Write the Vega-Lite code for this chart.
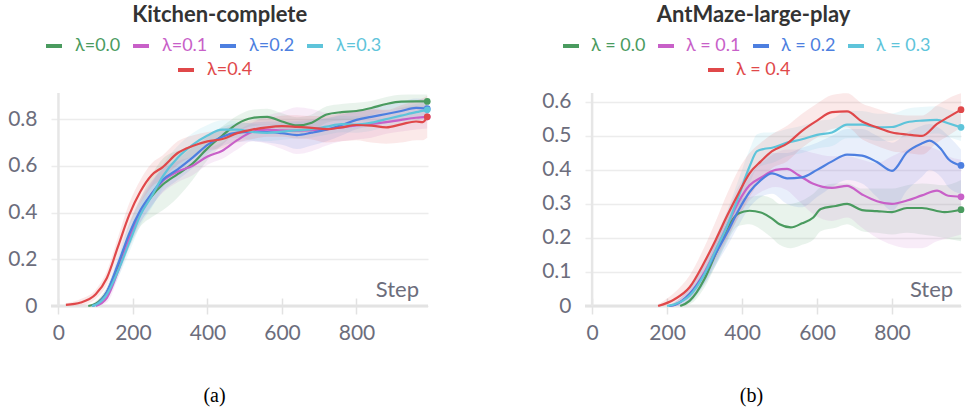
{
"$schema":"https://vega.github.io/schema/vega-lite/v6.json",
"padding":{"left":7,"top":4,"right":5,"bottom":5},
"config":{"font":"Lato","view":{"stroke":null},"axis":{"labelFont":"Lato"},"legend":{"labelFont":"Lato"}},
"datasets":{
"ka":[
{"l":"λ=0.0","s":80,"m":0,"lo":0,"hi":0},{"l":"λ=0.0","s":100,"m":0.01,"lo":0,"hi":0.02},{"l":"λ=0.0","s":130,"m":0.06,"lo":0.04,"hi":0.08},{"l":"λ=0.0","s":160,"m":0.17,"lo":0.135,"hi":0.205},{"l":"λ=0.0","s":190,"m":0.30,"lo":0.25,"hi":0.35},{"l":"λ=0.0","s":220,"m":0.40,"lo":0.34,"hi":0.46},{"l":"λ=0.0","s":250,"m":0.47,"lo":0.38,"hi":0.56},{"l":"λ=0.0","s":280,"m":0.52,"lo":0.41,"hi":0.63},{"l":"λ=0.0","s":320,"m":0.565,"lo":0.465,"hi":0.665},{"l":"λ=0.0","s":360,"m":0.61,"lo":0.54,"hi":0.68},{"l":"λ=0.0","s":400,"m":0.675,"lo":0.625,"hi":0.725},{"l":"λ=0.0","s":440,"m":0.73,"lo":0.69,"hi":0.77},{"l":"λ=0.0","s":480,"m":0.78,"lo":0.745,"hi":0.815},{"l":"λ=0.0","s":520,"m":0.805,"lo":0.77,"hi":0.84},{"l":"λ=0.0","s":560,"m":0.81,"lo":0.775,"hi":0.845},{"l":"λ=0.0","s":600,"m":0.79,"lo":0.755,"hi":0.825},{"l":"λ=0.0","s":640,"m":0.773,"lo":0.738,"hi":0.808},{"l":"λ=0.0","s":680,"m":0.785,"lo":0.75,"hi":0.82},{"l":"λ=0.0","s":720,"m":0.82,"lo":0.785,"hi":0.855},{"l":"λ=0.0","s":760,"m":0.83,"lo":0.795,"hi":0.865},{"l":"λ=0.0","s":800,"m":0.835,"lo":0.80,"hi":0.87},{"l":"λ=0.0","s":840,"m":0.848,"lo":0.818,"hi":0.878},{"l":"λ=0.0","s":880,"m":0.865,"lo":0.835,"hi":0.895},{"l":"λ=0.0","s":920,"m":0.875,"lo":0.845,"hi":0.905},{"l":"λ=0.0","s":960,"m":0.876,"lo":0.846,"hi":0.906},{"l":"λ=0.0","s":990,"m":0.876,"lo":0.846,"hi":0.906},
{"l":"λ=0.1","s":100,"m":0,"lo":0,"hi":0.005},{"l":"λ=0.1","s":130,"m":0.035,"lo":0.015,"hi":0.055},{"l":"λ=0.1","s":160,"m":0.15,"lo":0.12,"hi":0.18},{"l":"λ=0.1","s":190,"m":0.29,"lo":0.25,"hi":0.33},{"l":"λ=0.1","s":220,"m":0.40,"lo":0.355,"hi":0.445},{"l":"λ=0.1","s":250,"m":0.48,"lo":0.43,"hi":0.53},{"l":"λ=0.1","s":280,"m":0.535,"lo":0.485,"hi":0.585},{"l":"λ=0.1","s":320,"m":0.575,"lo":0.53,"hi":0.62},{"l":"λ=0.1","s":360,"m":0.60,"lo":0.56,"hi":0.64},{"l":"λ=0.1","s":400,"m":0.64,"lo":0.605,"hi":0.675},{"l":"λ=0.1","s":440,"m":0.665,"lo":0.63,"hi":0.70},{"l":"λ=0.1","s":480,"m":0.71,"lo":0.67,"hi":0.75},{"l":"λ=0.1","s":520,"m":0.745,"lo":0.705,"hi":0.785},{"l":"λ=0.1","s":560,"m":0.755,"lo":0.695,"hi":0.815},{"l":"λ=0.1","s":600,"m":0.752,"lo":0.672,"hi":0.832},{"l":"λ=0.1","s":640,"m":0.751,"lo":0.651,"hi":0.851},{"l":"λ=0.1","s":680,"m":0.753,"lo":0.663,"hi":0.843},{"l":"λ=0.1","s":720,"m":0.757,"lo":0.687,"hi":0.827},{"l":"λ=0.1","s":760,"m":0.765,"lo":0.705,"hi":0.825},{"l":"λ=0.1","s":800,"m":0.773,"lo":0.713,"hi":0.833},{"l":"λ=0.1","s":840,"m":0.78,"lo":0.72,"hi":0.84},{"l":"λ=0.1","s":880,"m":0.787,"lo":0.737,"hi":0.837},{"l":"λ=0.1","s":920,"m":0.797,"lo":0.747,"hi":0.847},{"l":"λ=0.1","s":960,"m":0.806,"lo":0.756,"hi":0.856},{"l":"λ=0.1","s":990,"m":0.81,"lo":0.76,"hi":0.86},
{"l":"λ=0.2","s":90,"m":0,"lo":0,"hi":0},{"l":"λ=0.2","s":100,"m":0.005,"lo":0,"hi":0.015},{"l":"λ=0.2","s":130,"m":0.06,"lo":0.04,"hi":0.08},{"l":"λ=0.2","s":160,"m":0.18,"lo":0.145,"hi":0.215},{"l":"λ=0.2","s":190,"m":0.31,"lo":0.265,"hi":0.355},{"l":"λ=0.2","s":220,"m":0.41,"lo":0.36,"hi":0.46},{"l":"λ=0.2","s":250,"m":0.48,"lo":0.425,"hi":0.535},{"l":"λ=0.2","s":280,"m":0.54,"lo":0.49,"hi":0.59},{"l":"λ=0.2","s":320,"m":0.585,"lo":0.54,"hi":0.63},{"l":"λ=0.2","s":360,"m":0.635,"lo":0.59,"hi":0.68},{"l":"λ=0.2","s":400,"m":0.69,"lo":0.65,"hi":0.73},{"l":"λ=0.2","s":440,"m":0.725,"lo":0.685,"hi":0.765},{"l":"λ=0.2","s":480,"m":0.742,"lo":0.702,"hi":0.782},{"l":"λ=0.2","s":520,"m":0.745,"lo":0.705,"hi":0.785},{"l":"λ=0.2","s":560,"m":0.745,"lo":0.70,"hi":0.79},{"l":"λ=0.2","s":600,"m":0.74,"lo":0.69,"hi":0.79},{"l":"λ=0.2","s":640,"m":0.732,"lo":0.672,"hi":0.792},{"l":"λ=0.2","s":680,"m":0.742,"lo":0.687,"hi":0.797},{"l":"λ=0.2","s":720,"m":0.755,"lo":0.705,"hi":0.805},{"l":"λ=0.2","s":760,"m":0.775,"lo":0.73,"hi":0.82},{"l":"λ=0.2","s":800,"m":0.797,"lo":0.757,"hi":0.837},{"l":"λ=0.2","s":840,"m":0.81,"lo":0.77,"hi":0.85},{"l":"λ=0.2","s":880,"m":0.822,"lo":0.782,"hi":0.862},{"l":"λ=0.2","s":920,"m":0.835,"lo":0.795,"hi":0.875},{"l":"λ=0.2","s":960,"m":0.848,"lo":0.808,"hi":0.888},{"l":"λ=0.2","s":990,"m":0.845,"lo":0.805,"hi":0.885},
{"l":"λ=0.3","s":90,"m":0,"lo":0,"hi":0},{"l":"λ=0.3","s":100,"m":0.005,"lo":0,"hi":0.015},{"l":"λ=0.3","s":130,"m":0.05,"lo":0.03,"hi":0.07},{"l":"λ=0.3","s":160,"m":0.15,"lo":0.12,"hi":0.18},{"l":"λ=0.3","s":190,"m":0.27,"lo":0.23,"hi":0.31},{"l":"λ=0.3","s":220,"m":0.39,"lo":0.345,"hi":0.435},{"l":"λ=0.3","s":250,"m":0.47,"lo":0.42,"hi":0.52},{"l":"λ=0.3","s":280,"m":0.555,"lo":0.505,"hi":0.605},{"l":"λ=0.3","s":320,"m":0.635,"lo":0.585,"hi":0.685},{"l":"λ=0.3","s":360,"m":0.69,"lo":0.64,"hi":0.74},{"l":"λ=0.3","s":400,"m":0.73,"lo":0.685,"hi":0.775},{"l":"λ=0.3","s":440,"m":0.755,"lo":0.715,"hi":0.795},{"l":"λ=0.3","s":480,"m":0.755,"lo":0.72,"hi":0.79},{"l":"λ=0.3","s":520,"m":0.745,"lo":0.71,"hi":0.78},{"l":"λ=0.3","s":560,"m":0.741,"lo":0.706,"hi":0.776},{"l":"λ=0.3","s":600,"m":0.747,"lo":0.712,"hi":0.782},{"l":"λ=0.3","s":640,"m":0.752,"lo":0.717,"hi":0.787},{"l":"λ=0.3","s":680,"m":0.757,"lo":0.722,"hi":0.792},{"l":"λ=0.3","s":720,"m":0.768,"lo":0.733,"hi":0.803},{"l":"λ=0.3","s":760,"m":0.779,"lo":0.744,"hi":0.814},{"l":"λ=0.3","s":800,"m":0.777,"lo":0.742,"hi":0.812},{"l":"λ=0.3","s":840,"m":0.785,"lo":0.75,"hi":0.82},{"l":"λ=0.3","s":880,"m":0.80,"lo":0.765,"hi":0.835},{"l":"λ=0.3","s":920,"m":0.815,"lo":0.78,"hi":0.85},{"l":"λ=0.3","s":960,"m":0.83,"lo":0.795,"hi":0.865},{"l":"λ=0.3","s":990,"m":0.84,"lo":0.805,"hi":0.875},
{"l":"λ=0.4","s":20,"m":0.005,"lo":0,"hi":0.012},{"l":"λ=0.4","s":60,"m":0.015,"lo":0.003,"hi":0.03},{"l":"λ=0.4","s":100,"m":0.05,"lo":0.03,"hi":0.07},{"l":"λ=0.4","s":130,"m":0.12,"lo":0.09,"hi":0.15},{"l":"λ=0.4","s":160,"m":0.255,"lo":0.215,"hi":0.295},{"l":"λ=0.4","s":190,"m":0.39,"lo":0.34,"hi":0.44},{"l":"λ=0.4","s":220,"m":0.49,"lo":0.44,"hi":0.54},{"l":"λ=0.4","s":250,"m":0.56,"lo":0.51,"hi":0.61},{"l":"λ=0.4","s":280,"m":0.595,"lo":0.545,"hi":0.645},{"l":"λ=0.4","s":320,"m":0.655,"lo":0.605,"hi":0.705},{"l":"λ=0.4","s":360,"m":0.685,"lo":0.64,"hi":0.73},{"l":"λ=0.4","s":400,"m":0.705,"lo":0.665,"hi":0.745},{"l":"λ=0.4","s":440,"m":0.715,"lo":0.675,"hi":0.755},{"l":"λ=0.4","s":480,"m":0.74,"lo":0.70,"hi":0.78},{"l":"λ=0.4","s":520,"m":0.755,"lo":0.715,"hi":0.795},{"l":"λ=0.4","s":560,"m":0.765,"lo":0.725,"hi":0.805},{"l":"λ=0.4","s":600,"m":0.77,"lo":0.725,"hi":0.815},{"l":"λ=0.4","s":640,"m":0.767,"lo":0.717,"hi":0.817},{"l":"λ=0.4","s":680,"m":0.763,"lo":0.713,"hi":0.813},{"l":"λ=0.4","s":720,"m":0.757,"lo":0.70,"hi":0.815},{"l":"λ=0.4","s":760,"m":0.765,"lo":0.705,"hi":0.825},{"l":"λ=0.4","s":800,"m":0.775,"lo":0.71,"hi":0.84},{"l":"λ=0.4","s":840,"m":0.772,"lo":0.70,"hi":0.845},{"l":"λ=0.4","s":880,"m":0.765,"lo":0.695,"hi":0.84},{"l":"λ=0.4","s":920,"m":0.778,"lo":0.70,"hi":0.86},{"l":"λ=0.4","s":960,"m":0.79,"lo":0.71,"hi":0.88},{"l":"λ=0.4","s":978,"m":0.787,"lo":0.71,"hi":0.89},{"l":"λ=0.4","s":990,"m":0.81,"lo":0.72,"hi":0.90}
],
"am":[
{"l":"λ = 0.0","s":235,"m":0,"lo":0,"hi":0},{"l":"λ = 0.0","s":260,"m":0.015,"lo":0.005,"hi":0.025},{"l":"λ = 0.0","s":300,"m":0.08,"lo":0.055,"hi":0.105},{"l":"λ = 0.0","s":330,"m":0.155,"lo":0.12,"hi":0.19},{"l":"λ = 0.0","s":360,"m":0.228,"lo":0.188,"hi":0.268},{"l":"λ = 0.0","s":390,"m":0.272,"lo":0.235,"hi":0.31},{"l":"λ = 0.0","s":420,"m":0.28,"lo":0.24,"hi":0.32},{"l":"λ = 0.0","s":450,"m":0.275,"lo":0.225,"hi":0.325},{"l":"λ = 0.0","s":480,"m":0.257,"lo":0.20,"hi":0.315},{"l":"λ = 0.0","s":500,"m":0.24,"lo":0.18,"hi":0.30},{"l":"λ = 0.0","s":530,"m":0.231,"lo":0.17,"hi":0.30},{"l":"λ = 0.0","s":560,"m":0.243,"lo":0.18,"hi":0.31},{"l":"λ = 0.0","s":590,"m":0.26,"lo":0.195,"hi":0.33},{"l":"λ = 0.0","s":610,"m":0.285,"lo":0.22,"hi":0.35},{"l":"λ = 0.0","s":650,"m":0.294,"lo":0.23,"hi":0.36},{"l":"λ = 0.0","s":680,"m":0.30,"lo":0.24,"hi":0.36},{"l":"λ = 0.0","s":720,"m":0.282,"lo":0.22,"hi":0.345},{"l":"λ = 0.0","s":760,"m":0.279,"lo":0.215,"hi":0.345},{"l":"λ = 0.0","s":800,"m":0.276,"lo":0.21,"hi":0.345},{"l":"λ = 0.0","s":840,"m":0.288,"lo":0.215,"hi":0.355},{"l":"λ = 0.0","s":880,"m":0.288,"lo":0.21,"hi":0.36},{"l":"λ = 0.0","s":940,"m":0.276,"lo":0.20,"hi":0.355},{"l":"λ = 0.0","s":984,"m":0.283,"lo":0.19,"hi":0.37},
{"l":"λ = 0.1","s":205,"m":0,"lo":0,"hi":0},{"l":"λ = 0.1","s":220,"m":0.003,"lo":0,"hi":0.01},{"l":"λ = 0.1","s":260,"m":0.035,"lo":0.015,"hi":0.055},{"l":"λ = 0.1","s":300,"m":0.10,"lo":0.07,"hi":0.13},{"l":"λ = 0.1","s":330,"m":0.165,"lo":0.13,"hi":0.20},{"l":"λ = 0.1","s":360,"m":0.235,"lo":0.195,"hi":0.275},{"l":"λ = 0.1","s":390,"m":0.305,"lo":0.26,"hi":0.35},{"l":"λ = 0.1","s":420,"m":0.355,"lo":0.31,"hi":0.40},{"l":"λ = 0.1","s":450,"m":0.377,"lo":0.335,"hi":0.42},{"l":"λ = 0.1","s":490,"m":0.40,"lo":0.35,"hi":0.45},{"l":"λ = 0.1","s":520,"m":0.403,"lo":0.34,"hi":0.46},{"l":"λ = 0.1","s":550,"m":0.385,"lo":0.31,"hi":0.46},{"l":"λ = 0.1","s":590,"m":0.359,"lo":0.27,"hi":0.45},{"l":"λ = 0.1","s":640,"m":0.347,"lo":0.25,"hi":0.44},{"l":"λ = 0.1","s":680,"m":0.353,"lo":0.26,"hi":0.44},{"l":"λ = 0.1","s":720,"m":0.328,"lo":0.23,"hi":0.43},{"l":"λ = 0.1","s":760,"m":0.308,"lo":0.20,"hi":0.42},{"l":"λ = 0.1","s":800,"m":0.30,"lo":0.18,"hi":0.44},{"l":"λ = 0.1","s":840,"m":0.31,"lo":0.17,"hi":0.46},{"l":"λ = 0.1","s":880,"m":0.325,"lo":0.17,"hi":0.47},{"l":"λ = 0.1","s":920,"m":0.339,"lo":0.19,"hi":0.46},{"l":"λ = 0.1","s":950,"m":0.324,"lo":0.20,"hi":0.44},{"l":"λ = 0.1","s":984,"m":0.321,"lo":0.21,"hi":0.43},
{"l":"λ = 0.2","s":205,"m":0,"lo":0,"hi":0},{"l":"λ = 0.2","s":220,"m":0.003,"lo":0,"hi":0.01},{"l":"λ = 0.2","s":260,"m":0.035,"lo":0.015,"hi":0.055},{"l":"λ = 0.2","s":300,"m":0.095,"lo":0.065,"hi":0.125},{"l":"λ = 0.2","s":330,"m":0.155,"lo":0.12,"hi":0.19},{"l":"λ = 0.2","s":360,"m":0.215,"lo":0.175,"hi":0.255},{"l":"λ = 0.2","s":390,"m":0.28,"lo":0.235,"hi":0.325},{"l":"λ = 0.2","s":420,"m":0.335,"lo":0.29,"hi":0.38},{"l":"λ = 0.2","s":450,"m":0.37,"lo":0.32,"hi":0.42},{"l":"λ = 0.2","s":480,"m":0.39,"lo":0.33,"hi":0.45},{"l":"λ = 0.2","s":520,"m":0.375,"lo":0.30,"hi":0.45},{"l":"λ = 0.2","s":560,"m":0.378,"lo":0.29,"hi":0.465},{"l":"λ = 0.2","s":600,"m":0.40,"lo":0.32,"hi":0.48},{"l":"λ = 0.2","s":640,"m":0.425,"lo":0.35,"hi":0.50},{"l":"λ = 0.2","s":680,"m":0.445,"lo":0.37,"hi":0.52},{"l":"λ = 0.2","s":720,"m":0.442,"lo":0.36,"hi":0.52},{"l":"λ = 0.2","s":760,"m":0.423,"lo":0.32,"hi":0.50},{"l":"λ = 0.2","s":800,"m":0.397,"lo":0.28,"hi":0.48},{"l":"λ = 0.2","s":840,"m":0.452,"lo":0.34,"hi":0.51},{"l":"λ = 0.2","s":880,"m":0.478,"lo":0.38,"hi":0.53},{"l":"λ = 0.2","s":900,"m":0.486,"lo":0.40,"hi":0.535},{"l":"λ = 0.2","s":930,"m":0.462,"lo":0.38,"hi":0.52},{"l":"λ = 0.2","s":950,"m":0.432,"lo":0.35,"hi":0.50},{"l":"λ = 0.2","s":984,"m":0.413,"lo":0.33,"hi":0.46},
{"l":"λ = 0.3","s":200,"m":0,"lo":0,"hi":0},{"l":"λ = 0.3","s":220,"m":0.005,"lo":0,"hi":0.012},{"l":"λ = 0.3","s":260,"m":0.03,"lo":0.01,"hi":0.05},{"l":"λ = 0.3","s":300,"m":0.095,"lo":0.065,"hi":0.125},{"l":"λ = 0.3","s":330,"m":0.165,"lo":0.125,"hi":0.205},{"l":"λ = 0.3","s":360,"m":0.235,"lo":0.19,"hi":0.28},{"l":"λ = 0.3","s":390,"m":0.32,"lo":0.27,"hi":0.37},{"l":"λ = 0.3","s":420,"m":0.41,"lo":0.36,"hi":0.46},{"l":"λ = 0.3","s":440,"m":0.455,"lo":0.405,"hi":0.505},{"l":"λ = 0.3","s":460,"m":0.462,"lo":0.415,"hi":0.51},{"l":"λ = 0.3","s":480,"m":0.465,"lo":0.42,"hi":0.51},{"l":"λ = 0.3","s":520,"m":0.48,"lo":0.44,"hi":0.52},{"l":"λ = 0.3","s":560,"m":0.49,"lo":0.45,"hi":0.53},{"l":"λ = 0.3","s":600,"m":0.503,"lo":0.463,"hi":0.543},{"l":"λ = 0.3","s":640,"m":0.51,"lo":0.47,"hi":0.55},{"l":"λ = 0.3","s":680,"m":0.533,"lo":0.493,"hi":0.573},{"l":"λ = 0.3","s":720,"m":0.533,"lo":0.493,"hi":0.573},{"l":"λ = 0.3","s":760,"m":0.525,"lo":0.485,"hi":0.565},{"l":"λ = 0.3","s":800,"m":0.526,"lo":0.486,"hi":0.566},{"l":"λ = 0.3","s":840,"m":0.54,"lo":0.50,"hi":0.58},{"l":"λ = 0.3","s":880,"m":0.545,"lo":0.505,"hi":0.585},{"l":"λ = 0.3","s":920,"m":0.547,"lo":0.507,"hi":0.587},{"l":"λ = 0.3","s":950,"m":0.537,"lo":0.497,"hi":0.577},{"l":"λ = 0.3","s":984,"m":0.525,"lo":0.485,"hi":0.565},
{"l":"λ = 0.4","s":176,"m":0,"lo":0,"hi":0.005},{"l":"λ = 0.4","s":220,"m":0.02,"lo":0.005,"hi":0.04},{"l":"λ = 0.4","s":260,"m":0.055,"lo":0.025,"hi":0.09},{"l":"λ = 0.4","s":300,"m":0.13,"lo":0.085,"hi":0.175},{"l":"λ = 0.4","s":330,"m":0.195,"lo":0.14,"hi":0.25},{"l":"λ = 0.4","s":360,"m":0.265,"lo":0.20,"hi":0.33},{"l":"λ = 0.4","s":390,"m":0.33,"lo":0.26,"hi":0.40},{"l":"λ = 0.4","s":420,"m":0.39,"lo":0.32,"hi":0.45},{"l":"λ = 0.4","s":450,"m":0.425,"lo":0.37,"hi":0.48},{"l":"λ = 0.4","s":480,"m":0.455,"lo":0.405,"hi":0.505},{"l":"λ = 0.4","s":520,"m":0.477,"lo":0.425,"hi":0.53},{"l":"λ = 0.4","s":560,"m":0.515,"lo":0.465,"hi":0.565},{"l":"λ = 0.4","s":600,"m":0.545,"lo":0.495,"hi":0.595},{"l":"λ = 0.4","s":640,"m":0.57,"lo":0.52,"hi":0.62},{"l":"λ = 0.4","s":680,"m":0.572,"lo":0.525,"hi":0.625},{"l":"λ = 0.4","s":720,"m":0.542,"lo":0.49,"hi":0.595},{"l":"λ = 0.4","s":760,"m":0.525,"lo":0.47,"hi":0.58},{"l":"λ = 0.4","s":800,"m":0.51,"lo":0.455,"hi":0.565},{"l":"λ = 0.4","s":840,"m":0.504,"lo":0.45,"hi":0.56},{"l":"λ = 0.4","s":880,"m":0.50,"lo":0.445,"hi":0.56},{"l":"λ = 0.4","s":920,"m":0.535,"lo":0.48,"hi":0.59},{"l":"λ = 0.4","s":950,"m":0.555,"lo":0.50,"hi":0.61},{"l":"λ = 0.4","s":984,"m":0.577,"lo":0.525,"hi":0.625}
]},
"spacing":109,
"resolve":{"scale":{"stroke":"independent","fill":"independent"}},
"hconcat":[
{"name":"A","width":377,"height":213,"data":{"name":"ka"},
"title":{"text":"Kitchen-complete","fontSize":22,"fontWeight":"bold","color":"#333333","frame":"bounds","anchor":"middle","offset":9,"font":"Lato"},
"layer":[
{"data":{"values":[{}]},"mark":{"type":"rule","color":"#e3e3e3","strokeWidth":3},"encoding":{"y":{"datum":0,"type":"quantitative","scale":{"domain":[0,0.912],"nice":false,"zero":false},"axis":{"values":[0,0.2,0.4,0.6,0.8],"tickCount":20,"format":".1~f","grid":true,"gridColor":"#ececec","gridWidth":1.5,"domain":false,"ticks":false,"labelFontSize":21,"labelColor":"#6c6d7c","labelPadding":14,"labelOverlap":false,"title":null}}}},
{"data":{"values":[{}]},"mark":{"type":"rule","color":"#e6e6e6","strokeWidth":2.5},"encoding":{"x":{"datum":0,"type":"quantitative","scale":{"domain":[-20,992],"nice":false,"zero":false},"axis":{"values":[0,200,400,600,800],"tickCount":20,"grid":false,"domain":false,"ticks":true,"tickSize":16,"tickColor":"#e2e2e2","tickWidth":1.5,"offset":-8,"labelFontSize":21,"labelColor":"#6c6d7c","labelPadding":8,"labelFlush":false,"labelOverlap":false,"title":"(a)","titleFont":"Liberation Serif","titleFontSize":20,"titleFontWeight":"normal","titleColor":"#000000","titleX":163,"titleY":97,"titleAlign":"center","titleBaseline":"middle"}}}},
{"mark":{"type":"area","fillOpacity":0.12,"interpolate":"monotone"},"encoding":{"x":{"field":"s","type":"quantitative","axis":{"values":[0,200,400,600,800],"tickCount":20,"grid":false,"domain":false,"ticks":true,"tickSize":16,"tickColor":"#e2e2e2","tickWidth":1.5,"offset":-8,"labelFontSize":21,"labelColor":"#6c6d7c","labelPadding":8,"labelFlush":false,"labelOverlap":false,"title":"(a)","titleFont":"Liberation Serif","titleFontSize":20,"titleFontWeight":"normal","titleColor":"#000000","titleX":163,"titleY":97,"titleAlign":"center","titleBaseline":"middle"}},"y":{"field":"lo","type":"quantitative","axis":{"values":[0,0.2,0.4,0.6,0.8],"tickCount":20,"format":".1~f","grid":true,"gridColor":"#ececec","gridWidth":1.5,"domain":false,"ticks":false,"labelFontSize":21,"labelColor":"#6c6d7c","labelPadding":14,"labelOverlap":false,"title":null}},"y2":{"field":"hi"},"fill":{"field":"l","type":"nominal","scale":{"domain":["λ=0.4","λ=0.0","λ=0.1","λ=0.2","λ=0.3"],"range":["#e0484a","#4a9b5f","#c860c8","#4d7fe0","#5ec4da"]},"legend":{"values":["λ=0.4"],"orient":"none","legendX":125,"legendY":-33,"title":null,"symbolType":"stroke","symbolSize":256,"symbolStrokeWidth":4,"symbolStrokeColor":"#e0484a","symbolOpacity":1,"labelColor":"#e0484a","labelFontSize":18,"labelOffset":11,"padding":0,"encode":{"symbols":{"update":{"stroke":{"value":"#e0484a"},"strokeWidth":{"value":4},"opacity":{"value":1},"strokeOpacity":{"value":1}}}}}}}},
{"mark":{"type":"line","strokeWidth":2.2,"interpolate":"monotone"},"encoding":{"x":{"field":"s","type":"quantitative"},"y":{"field":"m","type":"quantitative"},"stroke":{"field":"l","type":"nominal","scale":{"domain":["λ=0.0","λ=0.1","λ=0.2","λ=0.3","λ=0.4"],"range":["#4a9b5f","#c860c8","#4d7fe0","#5ec4da","#e0484a"]},"legend":{"values":["λ=0.0","λ=0.1","λ=0.2","λ=0.3"],"orient":"none","legendX":-7,"legendY":-57,"direction":"horizontal","title":null,"symbolType":"stroke","symbolSize":256,"symbolStrokeWidth":4,"labelFontSize":18,"labelOffset":11,"columnPadding":4,"padding":0,"encode":{"labels":{"update":{"fill":{"scale":"A_stroke","field":"value"}}}}}}}},
{"transform":[{"filter":"datum.s >= 990"}],"mark":{"type":"circle","size":45,"opacity":1},"encoding":{"x":{"field":"s","type":"quantitative"},"y":{"field":"m","type":"quantitative"},"fill":{"field":"l","type":"nominal","legend":{"values":["λ=0.4"],"orient":"none","legendX":125,"legendY":-33,"title":null,"symbolType":"stroke","symbolSize":256,"symbolStrokeWidth":4,"symbolStrokeColor":"#e0484a","symbolOpacity":1,"labelColor":"#e0484a","labelFontSize":18,"labelOffset":11,"padding":0,"encode":{"symbols":{"update":{"stroke":{"value":"#e0484a"},"strokeWidth":{"value":4},"opacity":{"value":1},"strokeOpacity":{"value":1}}}}}}}},
{"data":{"values":[{}]},"mark":{"type":"text","text":"Step","align":"right","baseline":"middle","fontSize":22,"color":"#6c6d7c","font":"Lato"},"encoding":{"x":{"datum":968,"type":"quantitative"},"y":{"datum":0.069,"type":"quantitative"}}}
]},
{"name":"B","width":376,"height":213,"data":{"name":"am"},
"title":{"text":"AntMaze-large-play","fontSize":22,"fontWeight":"bold","color":"#333333","frame":"bounds","anchor":"middle","offset":9,"font":"Lato"},
"layer":[
{"data":{"values":[{}]},"mark":{"type":"rule","color":"#e3e3e3","strokeWidth":3},"encoding":{"y":{"datum":0,"type":"quantitative","scale":{"domain":[0,0.626],"nice":false,"zero":false},"axis":{"values":[0,0.1,0.2,0.3,0.4,0.5,0.6],"tickCount":20,"format":".1~f","grid":true,"gridColor":"#ececec","gridWidth":1.5,"domain":false,"ticks":false,"labelFontSize":21,"labelColor":"#6c6d7c","labelPadding":14,"labelOverlap":false,"title":null}}}},
{"data":{"values":[{}]},"mark":{"type":"rule","color":"#e6e6e6","strokeWidth":2.5},"encoding":{"x":{"datum":0,"type":"quantitative","scale":{"domain":[-19,984],"nice":false,"zero":false},"axis":{"values":[0,200,400,600,800],"tickCount":20,"grid":false,"domain":false,"ticks":true,"tickSize":16,"tickColor":"#e2e2e2","tickWidth":1.5,"offset":-8,"labelFontSize":21,"labelColor":"#6c6d7c","labelPadding":8,"labelFlush":false,"labelOverlap":false,"title":"(b)","titleFont":"Liberation Serif","titleFontSize":20,"titleFontWeight":"normal","titleColor":"#000000","titleX":166,"titleY":97,"titleAlign":"center","titleBaseline":"middle"}}}},
{"mark":{"type":"area","fillOpacity":0.12,"interpolate":"monotone"},"encoding":{"x":{"field":"s","type":"quantitative","axis":{"values":[0,200,400,600,800],"tickCount":20,"grid":false,"domain":false,"ticks":true,"tickSize":16,"tickColor":"#e2e2e2","tickWidth":1.5,"offset":-8,"labelFontSize":21,"labelColor":"#6c6d7c","labelPadding":8,"labelFlush":false,"labelOverlap":false,"title":"(b)","titleFont":"Liberation Serif","titleFontSize":20,"titleFontWeight":"normal","titleColor":"#000000","titleX":166,"titleY":97,"titleAlign":"center","titleBaseline":"middle"}},"y":{"field":"lo","type":"quantitative","axis":{"values":[0,0.1,0.2,0.3,0.4,0.5,0.6],"tickCount":20,"format":".1~f","grid":true,"gridColor":"#ececec","gridWidth":1.5,"domain":false,"ticks":false,"labelFontSize":21,"labelColor":"#6c6d7c","labelPadding":14,"labelOverlap":false,"title":null}},"y2":{"field":"hi"},"fill":{"field":"l","type":"nominal","scale":{"domain":["λ = 0.4","λ = 0.0","λ = 0.1","λ = 0.2","λ = 0.3"],"range":["#e0484a","#4a9b5f","#c860c8","#4d7fe0","#5ec4da"]},"legend":{"values":["λ = 0.4"],"orient":"none","legendX":121,"legendY":-33,"title":null,"symbolType":"stroke","symbolSize":256,"symbolStrokeWidth":4,"symbolStrokeColor":"#e0484a","symbolOpacity":1,"labelColor":"#e0484a","labelFontSize":18,"labelOffset":10,"padding":0,"encode":{"symbols":{"update":{"stroke":{"value":"#e0484a"},"strokeWidth":{"value":4},"opacity":{"value":1},"strokeOpacity":{"value":1}}}}}}}},
{"mark":{"type":"line","strokeWidth":2.2,"interpolate":"monotone"},"encoding":{"x":{"field":"s","type":"quantitative"},"y":{"field":"m","type":"quantitative"},"stroke":{"field":"l","type":"nominal","scale":{"domain":["λ = 0.0","λ = 0.1","λ = 0.2","λ = 0.3","λ = 0.4"],"range":["#4a9b5f","#c860c8","#4d7fe0","#5ec4da","#e0484a"]},"legend":{"values":["λ = 0.0","λ = 0.1","λ = 0.2","λ = 0.3"],"orient":"none","legendX":-24,"legendY":-57,"direction":"horizontal","title":null,"symbolType":"stroke","symbolSize":256,"symbolStrokeWidth":4,"labelFontSize":18,"labelOffset":10,"columnPadding":4,"padding":0,"encode":{"labels":{"update":{"fill":{"scale":"B_stroke","field":"value"}}}}}}}},
{"transform":[{"filter":"datum.s >= 984"}],"mark":{"type":"circle","size":45,"opacity":1},"encoding":{"x":{"field":"s","type":"quantitative"},"y":{"field":"m","type":"quantitative"},"fill":{"field":"l","type":"nominal","legend":{"values":["λ = 0.4"],"orient":"none","legendX":121,"legendY":-33,"title":null,"symbolType":"stroke","symbolSize":256,"symbolStrokeWidth":4,"symbolStrokeColor":"#e0484a","symbolOpacity":1,"labelColor":"#e0484a","labelFontSize":18,"labelOffset":10,"padding":0,"encode":{"symbols":{"update":{"stroke":{"value":"#e0484a"},"strokeWidth":{"value":4},"opacity":{"value":1},"strokeOpacity":{"value":1}}}}}}}},
{"data":{"values":[{}]},"mark":{"type":"text","text":"Step","align":"right","baseline":"middle","fontSize":22,"color":"#6c6d7c","font":"Lato"},"encoding":{"x":{"datum":963,"type":"quantitative"},"y":{"datum":0.047,"type":"quantitative"}}}
]}
]
}
